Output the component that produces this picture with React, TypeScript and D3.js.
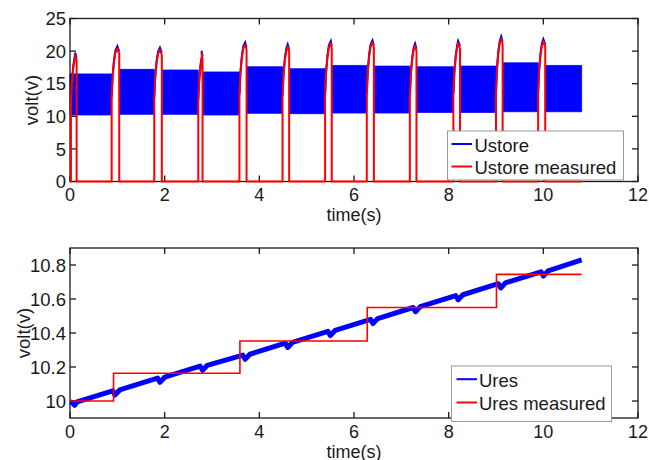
import React from "react";
import * as d3 from "d3";

// ---------- data ----------
const xTicks = [0, 2, 4, 6, 8, 10, 12];
const topYTicks = [0, 5, 10, 15, 20, 25];
const botYTicks = [10, 10.2, 10.4, 10.6, 10.8];

// Ustore band segments (dense oscillation between low/high)
const segStart = [0.0, 1.04, 1.94, 2.8, 3.73, 4.63, 5.53, 6.42, 7.32, 8.24, 9.14, 10.04];
const segEnd = [0.88, 1.78, 2.71, 3.58, 4.49, 5.39, 6.27, 7.18, 8.1, 9.0, 9.89, 10.81];
const segHigh = [16.5, 17.2, 17.1, 16.8, 17.6, 17.3, 17.8, 17.7, 17.6, 17.7, 18.2, 17.8];
const segLow = [10.2, 10.3, 10.3, 10.2, 10.45, 10.4, 10.5, 10.5, 10.6, 10.6, 10.7, 10.7];

// charging pulses (Ustore measured)
const pulseStart = [0.02, 0.88, 1.78, 2.71, 3.58, 4.49, 5.39, 6.27, 7.18, 8.1, 9.0, 9.89];
const pulsePeakT = [0.11, 1.0, 1.9, 2.78, 3.7, 4.6, 5.51, 6.39, 7.29, 8.2, 9.11, 10.0];
const pulsePeakV = [19.4, 20.4, 20.2, 19.7, 21.0, 20.7, 21.2, 21.3, 20.8, 21.2, 21.9, 21.5];
const pulseEnd = [0.14, 1.04, 1.94, 2.8, 3.73, 4.63, 5.53, 6.42, 7.32, 8.24, 9.14, 10.04];
const pulseShapeDt = [0, 0, 0.02, 0.05, 0.08];
const pulseShapeFrac = [0, 0.62, 0.78, 0.9, 0.97];
const measuredEnd = 10.81;

// Ures
const uresT = [0, 0.05, 0.1, 0.15, 0.9, 0.95, 1.05, 1.85, 1.9, 2.0, 2.75, 2.8, 2.9, 3.65, 3.7, 3.8,
  4.55, 4.6, 4.7, 5.45, 5.5, 5.6, 6.35, 6.4, 6.5, 7.25, 7.3, 7.4, 8.15, 8.2, 8.3, 9.05, 9.1, 9.2,
  9.95, 10.0, 10.1, 10.81];
const uresV = [9.995, 9.99, 9.975, 9.995, 10.06, 10.035, 10.065, 10.135, 10.11, 10.14, 10.205, 10.18,
  10.21, 10.27, 10.245, 10.275, 10.34, 10.315, 10.345, 10.41, 10.385, 10.415, 10.48, 10.455, 10.485,
  10.55, 10.525, 10.555, 10.62, 10.595, 10.625, 10.69, 10.665, 10.695, 10.76, 10.735, 10.765, 10.83];

// Ures measured (steps)
const stepT = [0, 0.92, 3.59, 6.28, 9.01];
const stepV = [10.0, 10.163, 10.353, 10.55, 10.745];

// ---------- layout ----------
const FONT = "'Liberation Sans', Arial, Helvetica, sans-serif";
const FS = 18.5;
const FS_LABEL = 18;
const X0 = 70, X1 = 638;
const TOP = { y0: 181.5, y1: 18.5 };
const BOT = { y0: 418, y1: 248 };

const x = d3.scaleLinear().domain([0, 12]).range([X0, X1]);
const yTop = d3.scaleLinear().domain([0, 25]).range([TOP.y0, TOP.y1]);
const yBot = d3.scaleLinear().domain([9.9, 10.9]).range([BOT.y0, BOT.y1]);

const BLUE = "#0000ff";
const RED = "#ff0000";
const AX = "#1a1a1a";

function Axes({ yScale, yTicks, fmt, y0, y1 }: any) {
  const tl = 6;
  return (
    <g>
      <rect x={X0} y={y1} width={X1 - X0} height={y0 - y1} fill="none" stroke={AX} strokeWidth={1.3} />
      {xTicks.map((t) => (
        <g key={"x" + t}>
          <line x1={x(t)} x2={x(t)} y1={y0} y2={y0 - tl} stroke={AX} strokeWidth={1.3} />
          <line x1={x(t)} x2={x(t)} y1={y1} y2={y1 + tl} stroke={AX} strokeWidth={1.3} />
          <text x={x(t)} y={y0 + 19.5} textAnchor="middle" fontSize={FS_LABEL} fill={AX} fontFamily={FONT}>{t}</text>
        </g>
      ))}
      {yTicks.map((t: number) => (
        <g key={"y" + t}>
          <line x1={X0} x2={X0 + tl} y1={yScale(t)} y2={yScale(t)} stroke={AX} strokeWidth={1.3} />
          <line x1={X1} x2={X1 - tl} y1={yScale(t)} y2={yScale(t)} stroke={AX} strokeWidth={1.3} />
          <text x={X0 - 4} y={yScale(t)} dy="0.36em" textAnchor="end" fontSize={FS} fill={AX} fontFamily={FONT}>{fmt(t)}</text>
        </g>
      ))}
      <text x={(X0 + X1) / 2} y={y0 + 39.5} textAnchor="middle" fontSize={FS_LABEL} fill={AX} fontFamily={FONT}>time(s)</text>
    </g>
  );
}

function Legend({ x0, y0, w, h, labels, rows, lineX0, lineX1, textX }: any) {
  return (
    <g>
      <rect x={x0} y={y0} width={w} height={h} fill="#fff" stroke="#999" strokeWidth={1} />
      {labels.map((l: string, i: number) => (
        <g key={l}>
          <line x1={lineX0} x2={lineX1} y1={rows[i] - 7.5} y2={rows[i] - 7.5} stroke={i === 0 ? BLUE : RED} strokeWidth={2} />
          <text x={textX} y={rows[i]} fontSize={FS} fill={AX} fontFamily={FONT}>{l}</text>
        </g>
      ))}
    </g>
  );
}

export default function App() {
  const bandPaths = segStart.map((s, i) => {
    const a = d3.area<number>()
      .x((d) => x(d))
      .y0(() => yTop(segLow[i]))
      .y1(() => yTop(segHigh[i]));
    return a([s, segEnd[i]]) as string;
  });

  const pulsePts = (i: number, lift: number) => {
    const pts: [number, number][] = pulseShapeDt.map((dt, k) => [
      pulseStart[i] + dt,
      k === 0 ? 0 : pulseShapeFrac[k] * pulsePeakV[i] + lift,
    ]);
    pts.push([pulsePeakT[i], pulsePeakV[i] + lift]);
    pts.push([pulseEnd[i], pulsePeakV[i] - 0.8 + lift]);
    pts.push([pulseEnd[i], 0]);
    return pts;
  };

  const lineTop = d3.line<[number, number]>().x((d) => x(d[0])).y((d) => yTop(d[1]));
  const redPts: [number, number][] = [[0, 0]];
  pulseStart.forEach((_, i) => redPts.push(...pulsePts(i, 0)));
  redPts.push([measuredEnd, 0]);
  const redPath = lineTop(redPts) as string;

  const bluePulsePaths = pulseStart.map((_, i) => {
    const p = pulsePts(i, 0.35).slice(1, -1);
    return lineTop(p) as string;
  });

  const lineBot = d3.line<number>().x((d) => x(uresT[d])).y((d) => yBot(uresV[d]));
  const uresPath = lineBot(d3.range(uresT.length)) as string;
  const stepLine = d3.line<number>()
    .x((d) => x(d < stepT.length ? stepT[d] : measuredEnd))
    .y((d) => yBot(stepV[Math.min(d, stepV.length - 1)]))
    .curve(d3.curveStepAfter);
  const stepPath = stepLine(d3.range(stepT.length + 1)) as string;

  return (
    <svg width={649} height={460} style={{ position: "absolute", left: 0, top: 0, background: "#fff" }}>
      <rect width={649} height={460} fill="#fff" />
      {/* top panel */}
      {bandPaths.map((p, i) => <path key={i} d={p} fill={BLUE} stroke={BLUE} strokeWidth={0.8} />)}
      {bluePulsePaths.map((p, i) => <path key={"bp" + i} d={p} fill="none" stroke={BLUE} strokeWidth={2} />)}
      <Axes yScale={yTop} yTicks={topYTicks} fmt={(t: number) => String(t)} y0={TOP.y0} y1={TOP.y1} />
      <path d={redPath} fill="none" stroke={RED} strokeWidth={2} strokeLinejoin="round" />
      <text transform={`translate(38,${(TOP.y0 + TOP.y1) / 2}) rotate(-90)`} textAnchor="middle" fontSize={FS} fill={AX} fontFamily={FONT}>volt(v)</text>
      <Legend x0={447.5} y0={131} w={176} h={49} labels={["Ustore", "Ustore measured"]} rows={[151.5, 174]} lineX0={451.5} lineX1={472} textX={474.5} />

      {/* bottom panel */}
      <Axes yScale={yBot} yTicks={botYTicks} fmt={(t: number) => (t === 10 ? "10" : t.toFixed(1))} y0={BOT.y0} y1={BOT.y1} />
      <path d={uresPath} fill="none" stroke={BLUE} strokeWidth={5} strokeLinejoin="round" />
      <path d={stepPath} fill="none" stroke={RED} strokeWidth={1.6} />
      <text transform={`translate(30,${(BOT.y0 + BOT.y1) / 2}) rotate(-90)`} textAnchor="middle" fontSize={FS} fill={AX} fontFamily={FONT}>volt(v)</text>
      <Legend x0={451.5} y0={366} w={160} h={55.5} labels={["Ures", "Ures measured"]} rows={[386.7, 410]} lineX0={456.5} lineX1={477} textX={479} />
    </svg>
  );
}
